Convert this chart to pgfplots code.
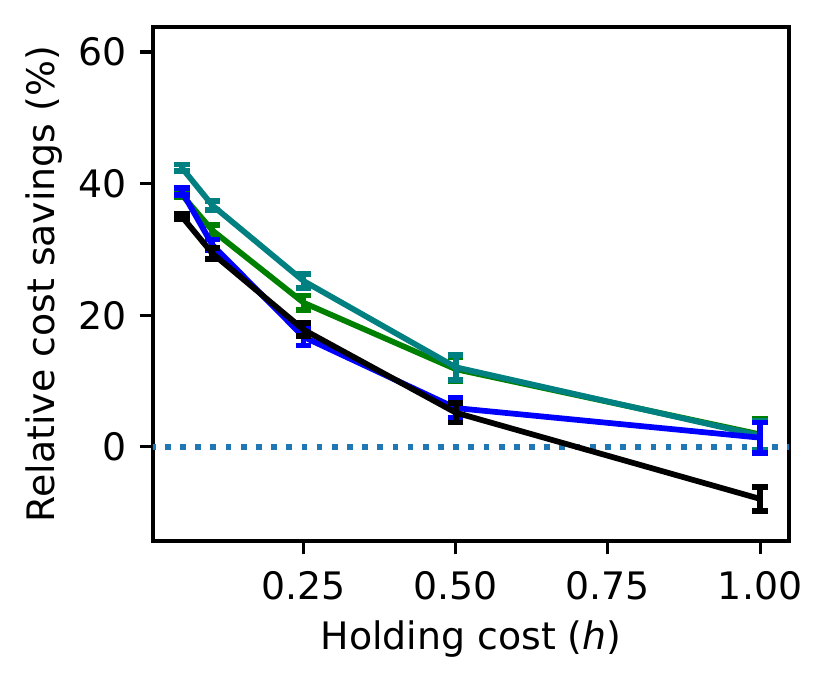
\documentclass[border=0pt]{standalone}
\usepackage{fontspec}
\setmainfont{DejaVu Sans}
\usepackage{pgfplots}
\pgfplotsset{compat=1.18}
\usepackage{pgfplotstable}
\definecolor{mplgreen}{HTML}{008000}
\definecolor{mplteal}{HTML}{008080}
\definecolor{mplblue}{HTML}{0000FF}
\definecolor{tabblue}{HTML}{1F77B4}

\pgfplotstableread{
x y e
0.05 38.3 0.4
0.10 32.9 0.8
0.25 21.9 1.1
0.50 11.8 1.8
1.00 1.9 2.4
}\greendata
\pgfplotstableread{
x y e
0.05 42.4 0.5
0.10 36.7 0.7
0.25 25.2 1.1
0.50 12.1 1.9
1.00 1.7 2.2
}\tealdata
\pgfplotstableread{
x y e
0.05 38.8 0.5
0.10 30.7 0.8
0.25 16.7 1.3
0.50 5.9 1.5
1.00 1.4 2.3
}\bluedata
\pgfplotstableread{
x y e
0.05 35.0 0.4
0.10 29.4 0.8
0.25 17.8 1.0
0.50 5.2 1.5
1.00 -7.9 1.85
}\blackdata

\pgfplotsset{
  errstyle/.style={line width=1.65pt, mark=none,
    error bars/.cd, y dir=both, y explicit,
    error bar style={line width=1.65pt},
    error mark options={line width=1.65pt, mark size=2.2pt, rotate=90}},
}

\begin{document}
\begin{tikzpicture}
\useasboundingbox (0,0) rectangle (238.75pt,198.72pt);
\begin{axis}[
  at={(44.06pt,42.91pt)}, anchor=south west,
  scale only axis, width=183.17pt, height=148.03pt,
  xmin=0.0025, xmax=1.0475, ymin=-14.3, ymax=63.8,
  xtick={0.25,0.5,0.75,1.0},
  xticklabels={0.25,0.50,0.75,1.00},
  ytick={0,20,40,60},
  tick align=outside, major tick length=3.85pt,
  xtick pos=bottom, ytick pos=left,
  every tick/.style={black, line width=0.88pt},
  axis line style={line width=0.88pt},
  /pgf/number format/assume math mode=true,
  tick label style={font=\fontsize{10.9}{13}\selectfont},
  xticklabel style={anchor=north, inner sep=0pt, yshift=-4.7pt},
  yticklabel style={anchor=east, inner sep=0pt, xshift=-3.64pt},
  label style={font=\fontsize{10.9}{13}\selectfont},
  xlabel={Holding cost (\textit{h})},
  ylabel={Relative cost savings (\%)},
  xlabel style={at={(axis description cs:0.5,-0.212)}, anchor=base},
  ylabel style={at={(axis description cs:-0.1541,0.5)}, anchor=base},
  clip=true,
]
\addplot[draw=tabblue, line width=1.65pt, dash pattern=on 1.65pt off 2.72pt, forget plot] coordinates {(-1,0) (2,0)};
\addplot[color=mplgreen, errstyle] table[x=x, y=y, y error=e] {\greendata};
\addplot[color=mplteal, errstyle] table[x=x, y=y, y error=e] {\tealdata};
\addplot[color=mplblue, errstyle] table[x=x, y=y, y error=e] {\bluedata};
\addplot[color=black, errstyle] table[x=x, y=y, y error=e] {\blackdata};
\end{axis}
\end{tikzpicture}
\end{document}
